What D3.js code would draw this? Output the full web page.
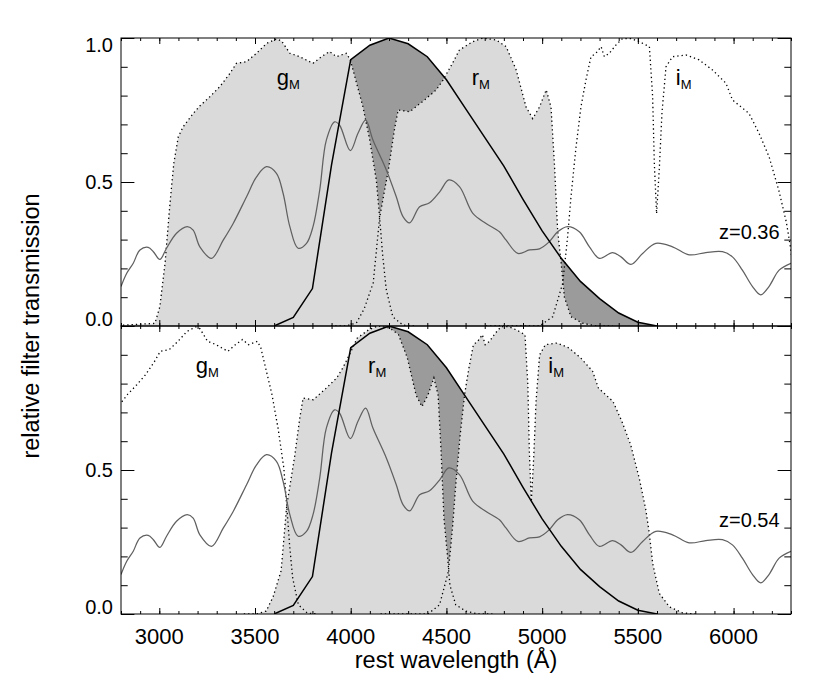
<!DOCTYPE html>
<html><head><meta charset="utf-8">
<script src="https://cdn.jsdelivr.net/npm/d3@7"></script>
<style>
body{margin:0;background:#fff}
svg{display:block}
text{font-family:"Liberation Sans",Arial,Helvetica,sans-serif;fill:#000}
</style>
</head><body>
<svg id="c" width="830" height="692"></svg>
<script>
// ---------------- data ----------------
const xDomain = [2800, 6300];
const xTickLabels = [3000, 3500, 4000, 4500, 5000, 5500, 6000];
const yTickLabels = ["0.0", "0.5", "1.0"];
const redshifts = [0.36, 0.54];
const zLabels = ["z=0.36", "z=0.54"];
const filterNames = ["g", "r", "i"];
const filledFilters = [["g", "r"], ["r", "i"]];
const labelWaveObs = [4914, 6300, 7750];   // observed-frame wavelength of the filter labels

// galaxy spectrum (rest frame)
const specWave = [2800,2830,2864,2899,2942,2969,3003,3038,3090,3146,3177,3212,3273,3334,3386,3456,3508,3560,3612,3647,3682,3725,3769,3803,3838,3873,3916,3942,3998,4038,4078,4116,4186,4238,4273,4308,4360,4412,4464,4513,4568,4638,4707,4777,4812,4873,4934,4986,5038,5081,5133,5194,5247,5299,5368,5412,5464,5525,5594,5681,5768,5855,5942,5994,6046,6099,6142,6185,6238,6300];
const specFlux = [0.137,0.183,0.218,0.264,0.273,0.258,0.231,0.27,0.322,0.345,0.333,0.275,0.235,0.298,0.356,0.449,0.518,0.553,0.53,0.46,0.345,0.27,0.287,0.345,0.472,0.646,0.709,0.697,0.609,0.669,0.715,0.646,0.542,0.449,0.38,0.358,0.414,0.428,0.465,0.507,0.484,0.391,0.356,0.327,0.298,0.252,0.264,0.268,0.293,0.327,0.345,0.327,0.275,0.235,0.255,0.24,0.214,0.252,0.287,0.275,0.247,0.255,0.258,0.24,0.194,0.137,0.108,0.137,0.194,0.218];

// rest-frame target band (solid black)
const bandWave = [3600,3700,3800,3900,4000,4100,4200,4300,4400,4500,4600,4700,4800,4900,5000,5100,5200,5300,5400,5500,5600];
const bandTrans = [0,0.03,0.13,0.56,0.925,0.975,1.0,0.98,0.935,0.855,0.755,0.655,0.555,0.44,0.33,0.235,0.155,0.095,0.045,0.013,0];

// observed-frame filter curves (dotted)
const gWave = [3700,4049,4084,4121,4156,4183,4215,4250,4321,4368,4439,4510,4582,4628,4700,4771,4842,4912,4948,5008,5078,5172,5232,5290,5338,5409,5437,5527,5575,5622,5645,5668,5693,5739,5811,5900];
const gTrans = [0,0.009,0.067,0.218,0.426,0.565,0.657,0.692,0.738,0.764,0.796,0.831,0.877,0.912,0.918,0.947,0.981,0.997,0.99,0.947,0.935,0.912,0.935,0.953,0.935,0.947,0.924,0.761,0.646,0.507,0.378,0.241,0.125,0.032,0.003,0];
const rWave = [5300,5402,5480,5536,5600,5645,5710,5750,5777,5859,5965,6048,6096,6164,6212,6305,6377,6474,6544,6615,6686,6733,6781,6829,6863,6887,6910,6935,6958,7005,7086,7181,7300];
const rTrans = [0,0,0.01,0.06,0.15,0.375,0.55,0.68,0.75,0.744,0.785,0.82,0.854,0.913,0.958,0.987,1.0,0.993,0.97,0.89,0.76,0.72,0.76,0.82,0.76,0.565,0.333,0.218,0.10,0.032,0.01,0,0];
const iWave = [6400,6781,6875,6946,6981,7005,7041,7076,7111,7147,7182,7219,7242,7277,7325,7371,7431,7490,7562,7585,7597,7613,7632,7651,7680,7726,7821,7915,8010,8106,8152,8270,8341,8412,8482,8535,8562,8589,8642,8723,8829,8932];
const iTrans = [0,0,0.032,0.148,0.31,0.449,0.623,0.761,0.854,0.935,0.947,0.97,0.935,0.947,0.976,0.998,0.998,0.987,0.97,0.796,0.565,0.39,0.542,0.738,0.9,0.935,0.941,0.924,0.889,0.843,0.785,0.738,0.669,0.588,0.47,0.36,0.28,0.176,0.072,0.025,0.004,0];

// ---------------- drawing ----------------
const filters = {
  g: {wave: gWave, trans: gTrans},
  r: {wave: rWave, trans: rTrans},
  i: {wave: iWave, trans: iTrans}
};
const L = 121, R = 791, T = 38, P = 288;
const LIGHT = "#dadada", DARK = "#9b9b9b";
const svg = d3.select("#c");
const defs = svg.append("defs");
const x = d3.scaleLinear().domain(xDomain).range([L, R]);

function interp(ws, vs, w) {
  if (w <= ws[0] || w >= ws[ws.length - 1]) return 0;
  const i = d3.bisectRight(ws, w);
  const t = (w - ws[i - 1]) / (ws[i] - ws[i - 1]);
  return vs[i - 1] + t * (vs[i] - vs[i - 1]);
}

redshifts.forEach((z, k) => {
  const top = T + k * P, bot = top + P;
  const y = d3.scaleLinear().domain([0, 1]).range([bot, top]);
  defs.append("clipPath").attr("id", "clip" + k)
    .append("rect").attr("x", L).attr("y", top).attr("width", R - L).attr("height", P);
  const plot = svg.append("g").attr("clip-path", `url(#clip${k})`);

  const restPts = name => filters[name].wave.map((w, j) => [w / (1 + z), filters[name].trans[j]]);
  const area = d3.area().x(d => x(d[0])).y0(y(0)).y1(d => y(d[1]));
  const line = d3.line().x(d => x(d[0])).y(d => y(d[1]));

  // light fills
  filledFilters[k].forEach(n => {
    plot.append("path").datum(restPts(n)).attr("d", area).attr("fill", LIGHT).attr("stroke", "none");
  });

  // dark fill: band above the filled filters
  const grid = d3.range(bandWave[0], bandWave[bandWave.length - 1] + 1, 2);
  const dark = grid.map(w => {
    const b = interp(bandWave, bandTrans, w);
    const f = d3.max(filledFilters[k], n => interp(filters[n].wave, filters[n].trans, w * (1 + z)));
    return [w, Math.min(b, f), b];
  });
  plot.append("path").datum(dark)
    .attr("d", d3.area().x(d => x(d[0])).y0(d => y(d[1])).y1(d => y(d[2])))
    .attr("fill", DARK).attr("stroke", "none");

  // dotted filter curves
  filterNames.forEach(n => {
    plot.append("path").datum(restPts(n)).attr("d", line)
      .attr("fill", "none").attr("stroke", "#000").attr("stroke-width", 1.3)
      .attr("stroke-dasharray", "1.3,3");
  });

  // spectrum
  plot.append("path").datum(specWave.map((w, j) => [w, specFlux[j]]))
    .attr("d", d3.line().x(d => x(d[0])).y(d => y(d[1])).curve(d3.curveCatmullRom.alpha(0.5)))
    .attr("fill", "none").attr("stroke", "#606060").attr("stroke-width", 1.25);

  // band
  plot.append("path").datum(bandWave.map((w, j) => [w, bandTrans[j]]))
    .attr("d", line).attr("fill", "none").attr("stroke", "#000").attr("stroke-width", 1.5);

  // axes / ticks
  const minorX = d3.range(2800, 6301, 100), majorX = d3.range(2500, 6301, 500).filter(v => v >= 2800);
  const minorY = d3.range(0, 11).map(v => v / 10), majorY = [0, 0.5, 1];
  const ax = (gen, vals, len, tx, ty) => {
    const a = svg.append("g").attr("transform", `translate(${tx},${ty})`)
      .call(gen.tickValues(vals).tickSize(-len).tickFormat(""));
    a.select(".domain").remove();
    a.selectAll("line").attr("stroke", "#000").attr("stroke-width", 1);
  };
  ax(d3.axisBottom(x), minorX, 3, 0, bot);
  ax(d3.axisBottom(x), majorX, 6, 0, bot);
  ax(d3.axisTop(x), minorX, 3, 0, top);
  ax(d3.axisTop(x), majorX, 6, 0, top);
  ax(d3.axisLeft(y), minorY, 6.7, L, 0);
  ax(d3.axisLeft(y), majorY, 13.4, L, 0);
  ax(d3.axisRight(y), minorY, 6.7, R, 0);
  ax(d3.axisRight(y), majorY, 13.4, R, 0);
  svg.append("rect").attr("x", L).attr("y", top).attr("width", R - L).attr("height", P)
    .attr("fill", "none").attr("stroke", "#000").attr("stroke-width", 1);

  // y tick labels
  yTickLabels.forEach((lab, j) => {
    if (k > 0 && j === 2) return;
    const v = +lab;
    let base = y(v) + 7;
    if (j === 0) base = bot;
    if (j === 2) base = top + 14.3;
    svg.append("text").attr("x", L - 8).attr("y", base).attr("text-anchor", "end")
      .attr("font-size", 20).text(lab);
  });

  // filter labels
  filterNames.forEach((n, j) => {
    const t = svg.append("text").attr("x", x(labelWaveObs[j] / (1 + z))).attr("y", top + 47)
      .attr("font-size", 22);
    t.append("tspan").text(n);
    t.append("tspan").attr("font-size", 13).attr("dy", 4).text("M");
  });

  // redshift label
  svg.append("text").attr("x", 719).attr("y", top + 201).attr("font-size", 20).text(zLabels[k]);
});

// x tick labels
xTickLabels.forEach(v => {
  svg.append("text").attr("x", x(v)).attr("y", 644).attr("text-anchor", "middle")
    .attr("font-size", 22).text(v);
});
svg.append("text").attr("x", (L + R) / 2).attr("y", 668).attr("text-anchor", "middle")
  .attr("font-size", 23.5).text("rest wavelength (Å)");
svg.append("text").attr("transform", `translate(39,${T + P})rotate(-90)`).attr("text-anchor", "middle")
  .attr("font-size", 23.5).text("relative filter transmission");
</script>
</body></html>
